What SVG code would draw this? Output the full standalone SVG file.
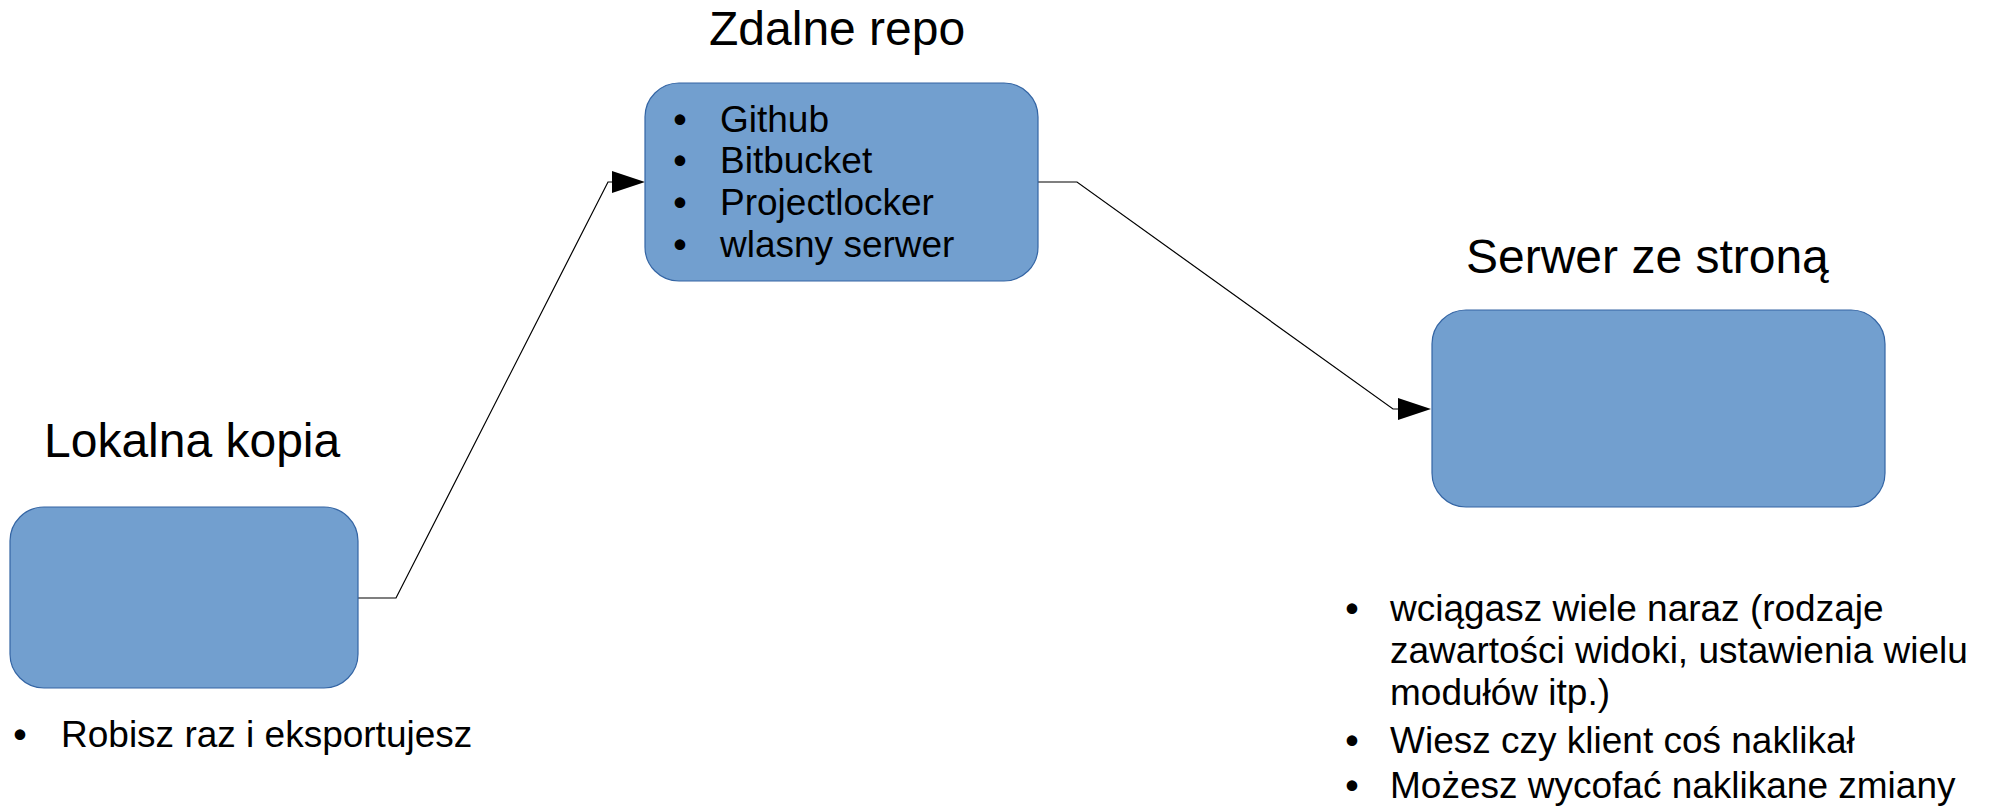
<svg xmlns="http://www.w3.org/2000/svg" width="1996" height="810" viewBox="0 0 1996 810">
<style>
.box{fill:#729fcf;stroke:#3465a4;stroke-width:1.2}
.title{font-family:"Liberation Sans",Arial,sans-serif;font-size:48px;fill:#000}
.body{font-family:"Liberation Sans",Arial,sans-serif;font-size:37px;fill:#000}
.bul{font-family:"Liberation Sans",Arial,sans-serif;font-size:37px;font-weight:bold;fill:#000;text-anchor:middle}
.conn{fill:none;stroke:#000;stroke-width:1.2}
.head{fill:#000}
</style>
<rect width="1996" height="810" fill="#fff"/>
<g id="connectors">
<path class="conn" d="M358,598 L396,598 L608,182 L613,182"/>
<polygon class="head" points="612,171 645,182 612,193"/>
<path class="conn" d="M1038,182 L1077,182 L1393,409 L1399,409"/>
<polygon class="head" points="1398,398 1431,409 1398,420"/>
</g>
<g id="node-zdalne">
<text class="title" x="709" y="45">Zdalne repo</text>
<rect class="box" x="645" y="83" width="393" height="198" rx="34" ry="34"/>
<text class="bul" x="680" y="132">•</text>
<text class="body" x="720" y="132">Github</text>
<text class="bul" x="680" y="173">•</text>
<text class="body" x="720" y="173">Bitbucket</text>
<text class="bul" x="680" y="215">•</text>
<text class="body" x="720" y="215">Projectlocker</text>
<text class="bul" x="680" y="257">•</text>
<text class="body" x="720" y="257">wlasny serwer</text>
</g>
<g id="node-lokalna">
<text class="title" x="44" y="457">Lokalna kopia</text>
<rect class="box" x="10" y="507" width="348" height="181" rx="34" ry="34"/>
<text class="bul" x="20" y="747">•</text>
<text class="body" x="61" y="747">Robisz raz i eksportujesz</text>
</g>
<g id="node-serwer">
<text class="title" x="1466" y="273">Serwer ze stroną</text>
<rect class="box" x="1432" y="310" width="453" height="197" rx="34" ry="34"/>
<text class="bul" x="1352" y="621">•</text>
<text class="body" x="1390" y="621">wciągasz wiele naraz (rodzaje</text>
<text class="body" x="1390" y="663">zawartości widoki, ustawienia wielu</text>
<text class="body" x="1390" y="705">modułów itp.)</text>
<text class="bul" x="1352" y="753">•</text>
<text class="body" x="1390" y="753">Wiesz czy klient coś naklikał</text>
<text class="bul" x="1352" y="798">•</text>
<text class="body" x="1390" y="798">Możesz wycofać naklikane zmiany</text>
</g>
</svg>
